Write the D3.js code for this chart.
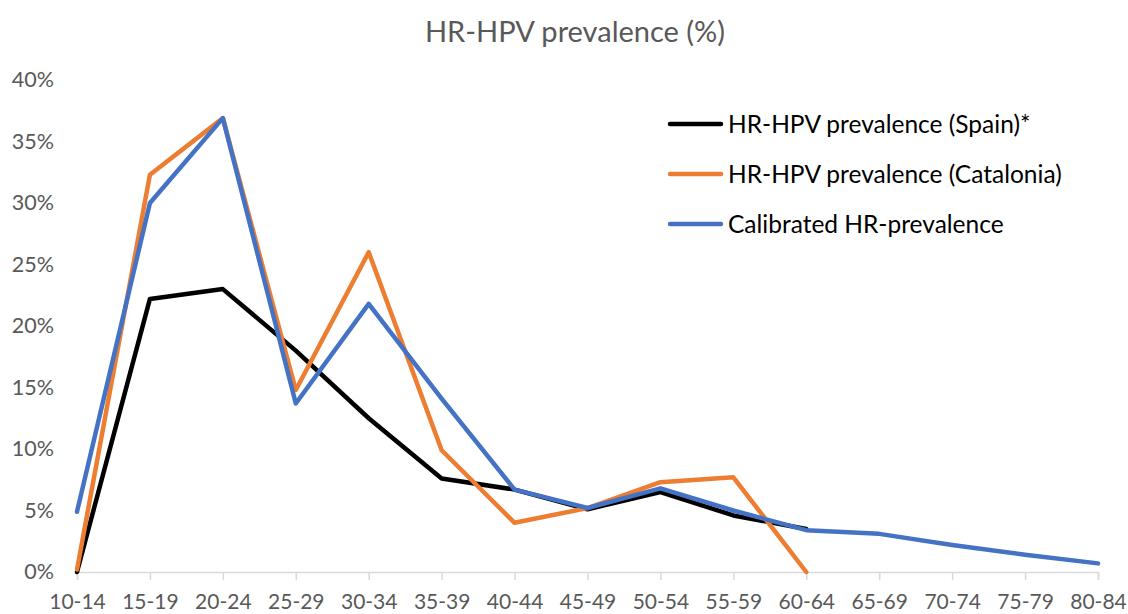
<!DOCTYPE html>
<html>
<head>
<meta charset="utf-8">
<script src="https://cdn.jsdelivr.net/npm/d3@7"></script>
<style>
  html, body { margin: 0; padding: 0; background: #fff; }
  svg { display: block; }
</style>
</head>
<body>
<svg id="chart" width="1128" height="614"></svg>
<script>
const categories = ["10-14","15-19","20-24","25-29","30-34","35-39","40-44","45-49","50-54","55-59","60-64","65-69","70-74","75-79","80-84"];
const spain     = [0.000, 0.222, 0.230, 0.180, 0.125, 0.076, 0.067, 0.051, 0.065, 0.046, 0.035, null, null, null, null];
const catalonia = [0.002, 0.323, 0.369, 0.148, 0.260, 0.099, 0.040, 0.052, 0.073, 0.077, 0.000, null, null, null, null];
const calibrated= [0.049, 0.300, 0.369, 0.137, 0.218, 0.141, 0.067, 0.052, 0.068, 0.050, 0.034, 0.031, 0.022, 0.014, 0.007];
const yTicks = [0, 0.05, 0.10, 0.15, 0.20, 0.25, 0.30, 0.35, 0.40];
const title = "HR-HPV prevalence (%)";
const seriesNames = ["HR-HPV prevalence (Spain)*", "HR-HPV prevalence (Catalonia)", "Calibrated HR-prevalence"];
const seriesColors = ["#000000", "#ED7D31", "#4472C4"];

const svg = d3.select("#chart");
const FONT = "Lato, 'Open Sans', sans-serif";

const x = d3.scalePoint().domain(categories).range([77, 1098]);
const y = d3.scaleLinear().domain([0, 0.4]).range([572, 80]);

// Title
svg.append("text")
  .attr("x", 575).attr("y", 42)
  .attr("text-anchor", "middle")
  .attr("font-family", FONT).attr("font-size", 29)
  .attr("fill", "#595959")
  .text(title);

// Y axis (labels only)
const yAxis = d3.axisLeft(y).tickValues(yTicks).tickFormat(d3.format(".0%")).tickSize(0).tickPadding(0);
const yg = svg.append("g").attr("transform", "translate(54,0)").call(yAxis);
yg.select(".domain").remove();
yg.selectAll("text").attr("font-family", FONT).attr("font-size", 21.5).attr("fill", "#595959");

// X axis
const xAxis = d3.axisBottom(x).tickSize(8).tickPadding(14);
const xg = svg.append("g").attr("transform", "translate(0,572)").call(xAxis);
xg.select(".domain").attr("stroke", "#d9d9d9").attr("stroke-width", 1.5);
xg.selectAll(".tick line").attr("stroke", "#d9d9d9").attr("stroke-width", 1.5);
xg.selectAll("text").attr("font-family", FONT).attr("font-size", 21).attr("fill", "#595959");

// Lines
const line = d3.line()
  .defined(d => d.v !== null)
  .x(d => x(d.c))
  .y(d => y(d.v));

[spain, catalonia, calibrated].forEach((arr, i) => {
  const pts = categories.map((c, j) => ({c, v: arr[j]}));
  svg.append("path")
    .datum(pts)
    .attr("fill", "none")
    .attr("stroke", seriesColors[i])
    .attr("stroke-width", 4.5)
    .attr("stroke-linejoin", "round")
    .attr("stroke-linecap", "round")
    .attr("d", line);
});

// Legend
const lg = svg.append("g");
seriesNames.forEach((name, i) => {
  const yy = 124 + i * 50;
  lg.append("line")
    .attr("x1", 670).attr("x2", 721).attr("y1", yy).attr("y2", yy)
    .attr("stroke", seriesColors[i]).attr("stroke-width", 4.5).attr("stroke-linecap", "round");
  lg.append("text")
    .attr("x", 728).attr("y", yy)
    .attr("dy", "0.35em")
    .attr("font-family", FONT).attr("font-size", 24.5)
    .attr("fill", "#000")
    .text(name);
});
</script>
</body>
</html>
